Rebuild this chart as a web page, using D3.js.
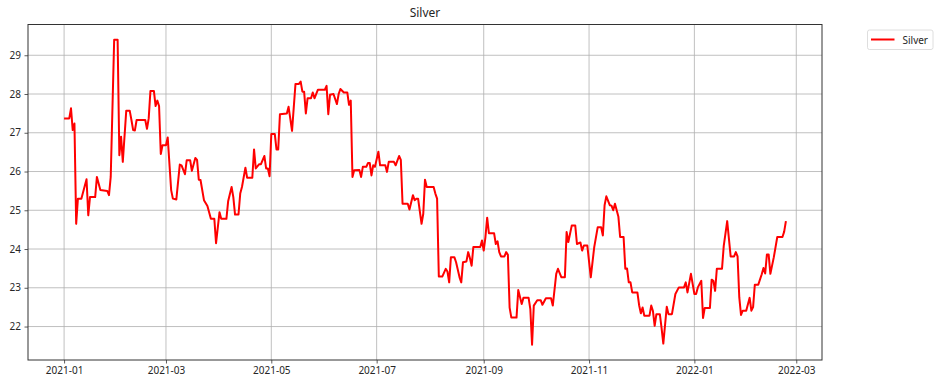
<html>
<head>
<meta charset="utf-8">
<style>
  body { margin: 0; background: #fff; }
  text { font-family: "Noto Sans", "Open Sans", sans-serif; fill: #262626; }
</style>
</head>
<body>
<svg id="chart" width="940" height="386"></svg>
<script src="https://d3js.org/d3.v7.min.js"></script>
<script>
// silver price (key points)
const dates = [
  '2021-01-01','2021-01-04','2021-01-05','2021-01-06','2021-01-07','2021-01-08','2021-01-09','2021-01-11','2021-01-14','2021-01-15',
  '2021-01-16','2021-01-19','2021-01-20','2021-01-22','2021-01-26','2021-01-27','2021-01-28','2021-01-30','2021-02-01','2021-02-02',
  '2021-02-03','2021-02-04','2021-02-06','2021-02-08','2021-02-09','2021-02-10','2021-02-11','2021-02-12','2021-02-17','2021-02-18',
  '2021-02-19','2021-02-20','2021-02-22','2021-02-23','2021-02-24','2021-02-25','2021-02-26','2021-02-27','2021-03-01','2021-03-02',
  '2021-03-04','2021-03-05','2021-03-07','2021-03-09','2021-03-10','2021-03-12','2021-03-13','2021-03-15','2021-03-16','2021-03-18',
  '2021-03-19','2021-03-20','2021-03-21','2021-03-23','2021-03-25','2021-03-27','2021-03-29','2021-03-30','2021-04-01','2021-04-02',
  '2021-04-05','2021-04-06','2021-04-08','2021-04-09','2021-04-10','2021-04-12','2021-04-13','2021-04-14','2021-04-16','2021-04-17',
  '2021-04-20','2021-04-21','2021-04-22','2021-04-24','2021-04-25','2021-04-27','2021-04-28','2021-04-29','2021-04-30','2021-05-01',
  '2021-05-03','2021-05-04','2021-05-05','2021-05-06','2021-05-10','2021-05-11','2021-05-13','2021-05-15','2021-05-17','2021-05-18',
  '2021-05-19','2021-05-20','2021-05-21','2021-05-22','2021-05-24','2021-05-25','2021-05-26','2021-05-28','2021-06-01','2021-06-02',
  '2021-06-03','2021-06-04','2021-06-06','2021-06-08','2021-06-09','2021-06-10','2021-06-12','2021-06-14','2021-06-15','2021-06-16',
  '2021-06-17','2021-06-18','2021-06-21','2021-06-22','2021-06-23','2021-06-25','2021-06-26','2021-06-27','2021-06-28','2021-06-29',
  '2021-06-30','2021-07-02','2021-07-03','2021-07-06','2021-07-07','2021-07-08','2021-07-11','2021-07-12','2021-07-14','2021-07-15',
  '2021-07-16','2021-07-19','2021-07-20','2021-07-22','2021-07-23','2021-07-24','2021-07-25','2021-07-27','2021-07-28','2021-07-29',
  '2021-07-30','2021-08-03','2021-08-04','2021-08-05','2021-08-06','2021-08-08','2021-08-10','2021-08-11','2021-08-12','2021-08-13',
  '2021-08-15','2021-08-16','2021-08-18','2021-08-19','2021-08-20','2021-08-22','2021-08-23','2021-08-24','2021-08-25','2021-08-26',
  '2021-08-30','2021-08-31','2021-09-01','2021-09-02','2021-09-03','2021-09-04','2021-09-07','2021-09-08','2021-09-09','2021-09-10',
  '2021-09-11','2021-09-13','2021-09-14','2021-09-15','2021-09-16','2021-09-17','2021-09-20','2021-09-21','2021-09-23','2021-09-24',
  '2021-09-27','2021-09-28','2021-09-29','2021-09-30','2021-10-02','2021-10-04','2021-10-05','2021-10-07','2021-10-10','2021-10-11',
  '2021-10-13','2021-10-14','2021-10-16','2021-10-18','2021-10-19','2021-10-20','2021-10-22','2021-10-24','2021-10-25','2021-10-27',
  '2021-10-28','2021-10-29','2021-10-31','2021-11-02','2021-11-04','2021-11-06','2021-11-08','2021-11-09','2021-11-10','2021-11-11',
  '2021-11-13','2021-11-14','2021-11-15','2021-11-16','2021-11-18','2021-11-19','2021-11-21','2021-11-22','2021-11-23','2021-11-24',
  '2021-11-25','2021-11-26','2021-11-29','2021-11-30','2021-12-01','2021-12-02','2021-12-03','2021-12-06','2021-12-07','2021-12-08',
  '2021-12-09','2021-12-10','2021-12-12','2021-12-13','2021-12-14','2021-12-16','2021-12-17','2021-12-19','2021-12-21','2021-12-23',
  '2021-12-26','2021-12-27','2021-12-28','2021-12-30','2022-01-01','2022-01-02','2022-01-03','2022-01-05','2022-01-06','2022-01-07',
  '2022-01-10','2022-01-11','2022-01-12','2022-01-13','2022-01-14','2022-01-17','2022-01-18','2022-01-20','2022-01-22','2022-01-24',
  '2022-01-25','2022-01-26','2022-01-27','2022-01-28','2022-01-29','2022-01-31','2022-02-02','2022-02-03','2022-02-04','2022-02-05',
  '2022-02-07','2022-02-09','2022-02-10','2022-02-11','2022-02-12','2022-02-13','2022-02-14','2022-02-16','2022-02-17','2022-02-18',
  '2022-02-21','2022-02-22','2022-02-23'
]
const silver = [
  27.37,27.37,27.63,27.07,27.24,24.65,25.30,25.30,25.80,24.87,
  25.34,25.34,25.86,25.52,25.50,25.39,25.86,29.40,29.40,26.42,
  26.90,26.25,27.57,27.57,27.33,27.07,27.06,27.33,27.33,27.10,
  27.37,28.08,28.08,27.69,27.83,27.69,26.45,26.68,26.68,26.88,
  25.52,25.30,25.28,26.18,26.16,25.93,26.29,26.29,26.02,26.35,
  26.30,25.79,25.78,25.26,25.11,24.78,24.78,24.15,24.95,24.78,
  24.78,25.23,25.60,25.34,24.89,24.89,25.43,25.60,26.10,25.84,
  25.84,26.57,26.08,26.19,26.19,26.40,26.08,26.08,25.88,26.97,
  26.97,26.57,26.57,27.48,27.50,27.67,27.05,28.26,28.26,28.32,
  28.06,28.06,27.50,27.89,27.89,28.04,27.89,28.11,28.11,28.21,
  27.48,27.98,28.00,27.74,28.00,28.13,28.04,28.04,27.72,27.83,
  25.86,26.03,26.04,25.86,26.12,26.12,26.22,26.22,25.90,26.16,
  26.12,26.51,26.16,26.16,25.99,26.25,26.25,26.16,26.40,26.30,
  25.17,25.17,25.02,25.39,25.26,25.30,25.30,24.65,24.91,25.79,
  25.60,25.60,25.43,25.30,23.29,23.29,23.49,23.42,23.14,23.79,
  23.79,23.66,23.27,23.14,23.66,23.68,23.92,23.77,23.57,24.05,
  24.05,24.22,23.96,24.31,24.81,24.41,24.41,24.13,24.20,23.92,
  23.81,23.81,23.92,23.85,22.49,22.23,22.23,22.94,22.58,22.74,
  22.74,22.45,21.53,22.54,22.68,22.68,22.56,22.73,22.73,22.54,
  23.36,23.49,23.27,23.27,24.44,24.18,24.61,24.61,24.13,24.17,
  23.96,24.09,24.09,23.27,24.05,24.56,24.56,24.35,25.13,25.36,
  25.13,25.12,25.00,25.17,24.83,24.31,24.31,23.49,23.50,23.14,
  23.14,22.88,22.88,22.55,22.34,22.49,22.28,22.28,22.54,22.40,
  22.02,22.32,22.32,21.96,21.56,22.51,22.32,22.32,22.84,23.01,
  23.01,23.14,22.88,23.36,22.84,22.84,23.01,23.18,22.22,22.48,
  22.48,23.21,23.18,22.92,23.49,23.49,24.08,24.72,23.81,23.81,
  23.92,23.81,22.75,22.30,22.41,22.41,22.74,22.41,22.50,23.08,
  23.08,23.35,23.51,23.37,23.86,23.86,23.36,23.79,24.05,24.31,
  24.31,24.45,24.72
]
const yTicks = [22, 23, 24, 25, 26, 27, 28, 29]
const xTicks = ['2021-01-01','2021-03-01','2021-05-01','2021-07-01','2021-09-01','2021-11-01','2022-01-01','2022-03-01']

const parse = d3.utcParse('%Y-%m-%d')
const data = dates.map((d, i) => ({ date: parse(d), value: silver[i] }))

const svg = d3.select('#chart')
const margin = { top: 24.5, right: 118, bottom: 26, left: 28 }
const W = +svg.attr('width'), H = +svg.attr('height')
const innerW = W - margin.left - margin.right
const innerH = H - margin.top - margin.bottom

// matplotlib style 5% padding around the data
const xExt = d3.extent(data, d => d.date)
const xPad = (xExt[1] - xExt[0]) * 0.05
const yExt = d3.extent(data, d => d.value)
const yPad = (yExt[1] - yExt[0]) * 0.05

const x = d3.scaleUtc().domain([new Date(+xExt[0] - xPad), new Date(+xExt[1] + xPad)]).range([0, innerW])
const y = d3.scaleLinear().domain([yExt[0] - yPad, yExt[1] + yPad]).range([innerH, 0])

const g = svg.append('g').attr('transform', `translate(${margin.left},${margin.top})`)

// grid
g.append('g').selectAll('line').data(yTicks).join('line')
  .attr('x1', 0).attr('x2', innerW)
  .attr('y1', d => y(d)).attr('y2', d => y(d))
  .attr('stroke', '#b0b0b0').attr('stroke-width', 0.8)
g.append('g').selectAll('line').data(xTicks.map(parse)).join('line')
  .attr('x1', d => x(d)).attr('x2', d => x(d))
  .attr('y1', 0).attr('y2', innerH)
  .attr('stroke', '#b0b0b0').attr('stroke-width', 0.8)

// axes
const xAxis = g.append('g').attr('transform', `translate(0,${innerH})`)
  .call(d3.axisBottom(x).tickValues(xTicks.map(parse)).tickFormat(d3.utcFormat('%Y-%m')).tickSize(3.5).tickPadding(3.5))
const yAxis = g.append('g')
  .call(d3.axisLeft(y).tickValues(yTicks).tickFormat(d3.format('d')).tickSize(3.5).tickPadding(3.5))
;[xAxis, yAxis].forEach(a => {
  a.select('.domain').remove()
  a.selectAll('.tick line').attr('stroke', '#333').attr('stroke-width', 0.8)
  a.selectAll('.tick text').attr('font-size', 10).attr('fill', '#262626')
    .style('font-family', '"Noto Sans", "Open Sans", sans-serif')
})

// line
const line = d3.line().x(d => x(d.date)).y(d => y(d.value))
g.append('path').datum(data)
  .attr('d', line)
  .attr('fill', 'none').attr('stroke', '#ff0000').attr('stroke-width', 2)
  .attr('stroke-linejoin', 'round')

// frame
g.append('rect').attr('x', 0).attr('y', 0).attr('width', innerW).attr('height', innerH)
  .attr('fill', 'none').attr('stroke', '#333').attr('stroke-width', 1)

// title
svg.append('text').attr('x', margin.left + innerW / 2).attr('y', 17)
  .attr('text-anchor', 'middle').attr('font-size', 12).text('Silver')

// legend
const lg = svg.append('g').attr('transform', 'translate(867.5,30)')
lg.append('rect').attr('width', 65.5).attr('height', 19.5).attr('rx', 2)
  .attr('fill', '#fff').attr('stroke', '#d6d6d6').attr('stroke-width', 0.8)
lg.append('line').attr('x1', 3.5).attr('x2', 27).attr('y1', 9.5).attr('y2', 9.5)
  .attr('stroke', '#ff0000').attr('stroke-width', 2)
lg.append('text').attr('x', 35).attr('y', 13.5).attr('font-size', 10).text('Silver')
</script>
</body>
</html>
